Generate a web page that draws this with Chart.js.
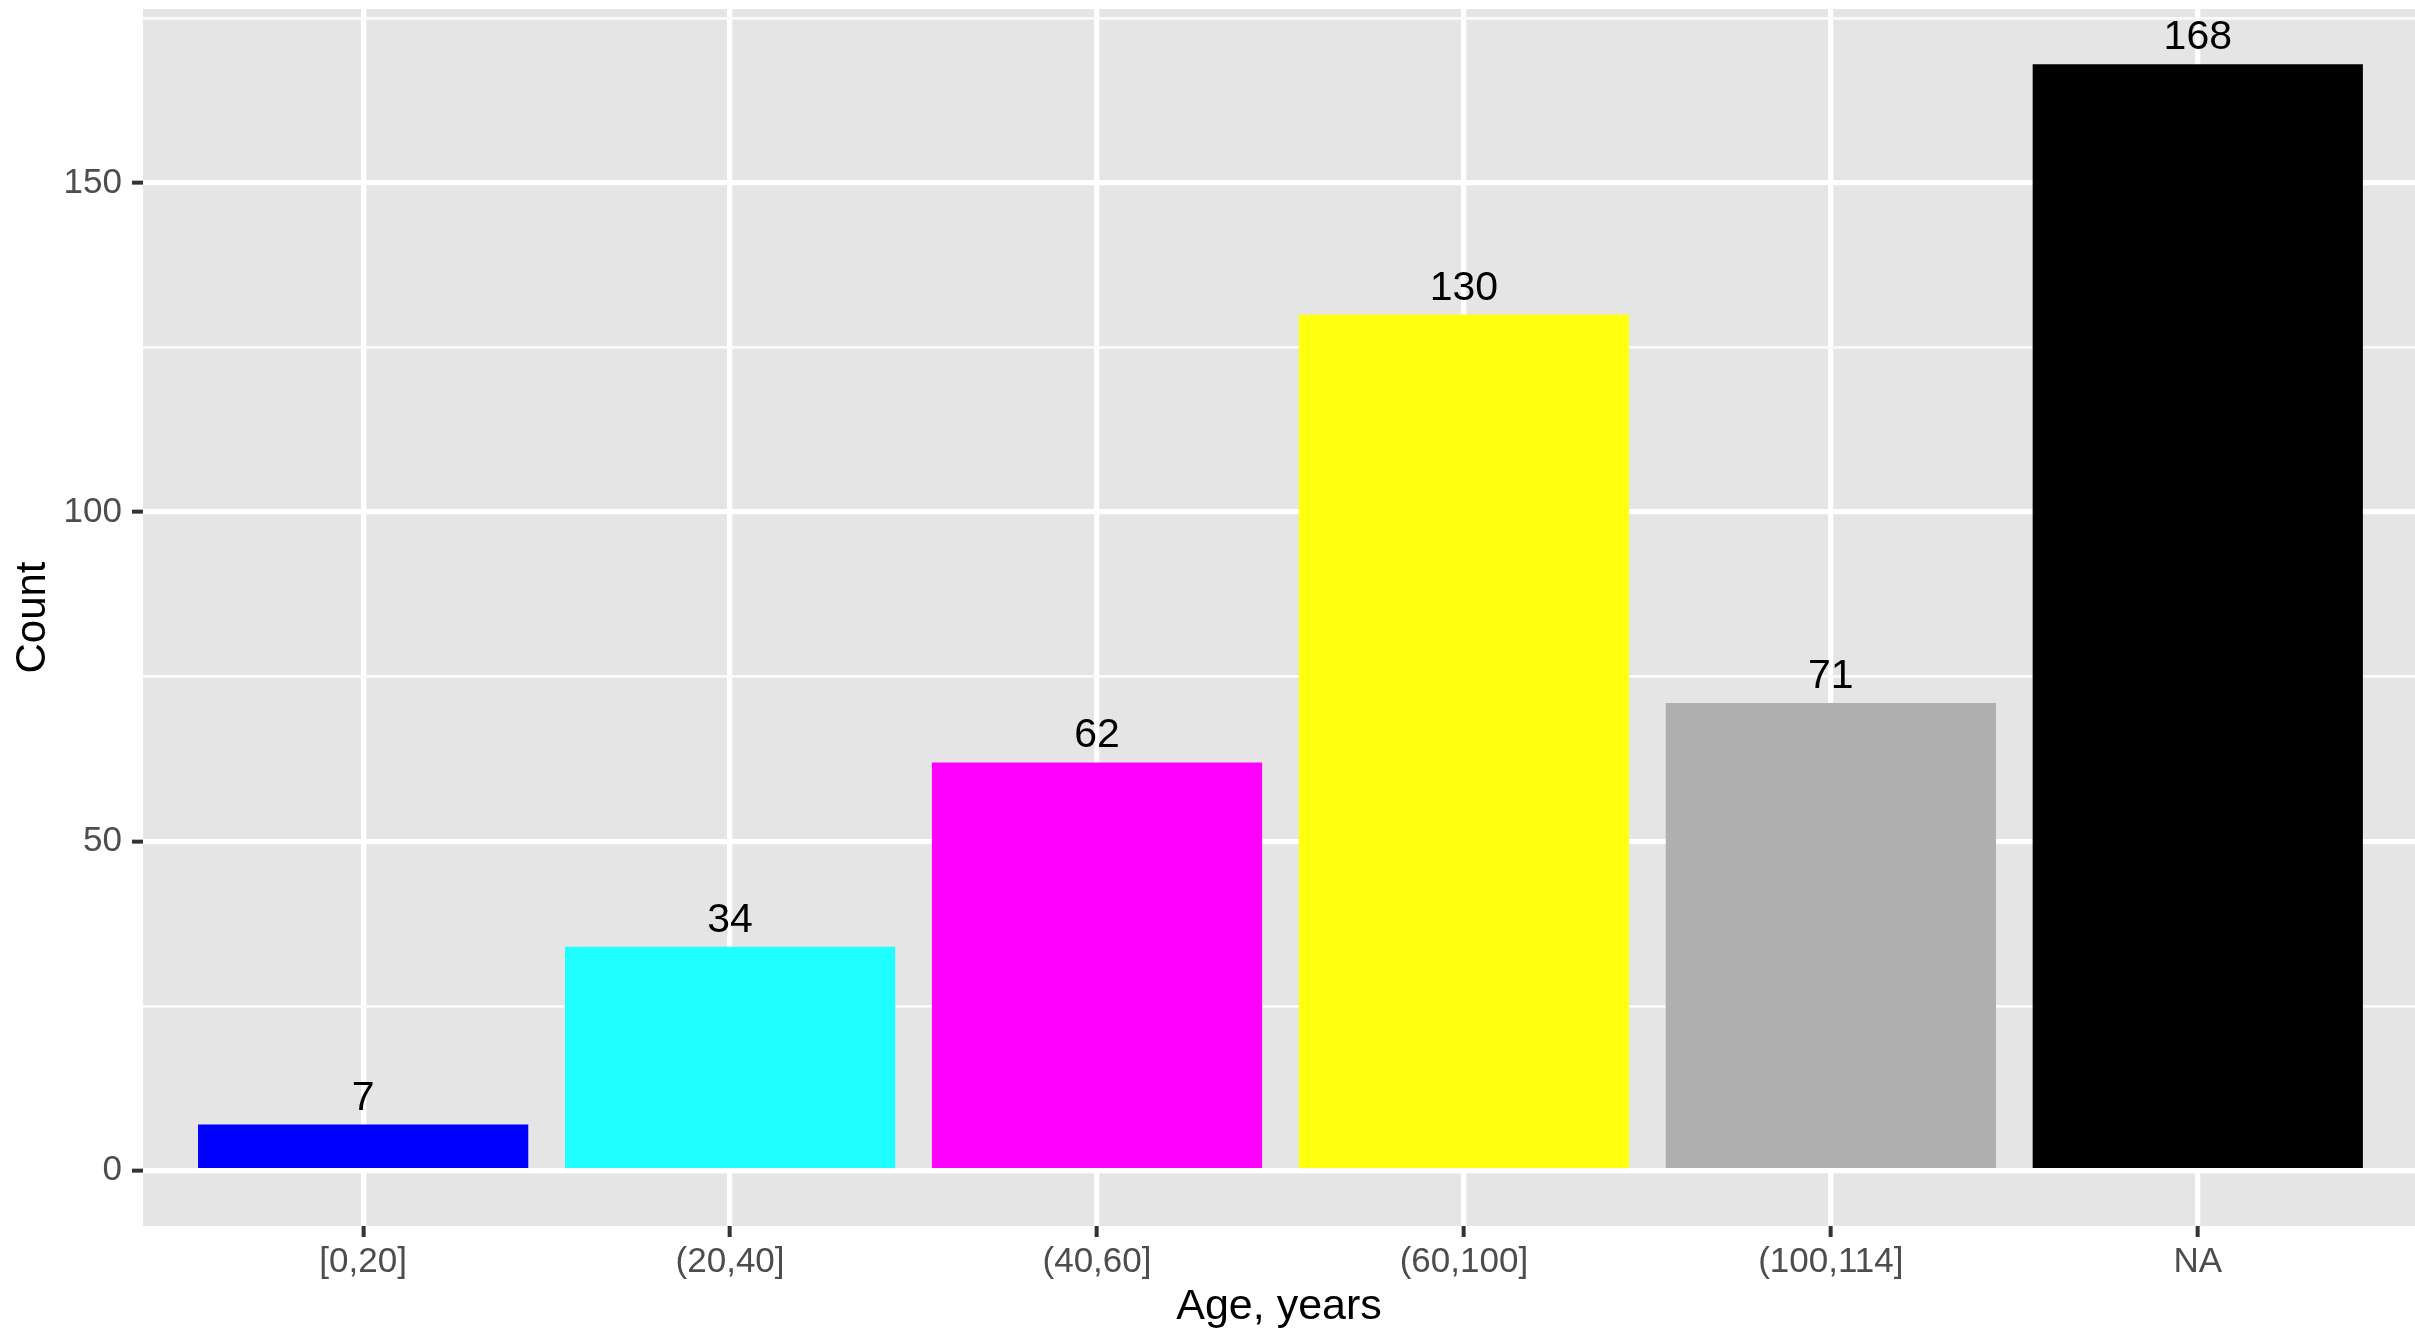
<!DOCTYPE html>
<html>
<head>
<meta charset="utf-8">
<script src="https://cdn.jsdelivr.net/npm/chart.js@4/dist/chart.umd.min.js"></script>
<style>
  html, body { margin: 0; padding: 0; background: #ffffff; }
  #wrap { width: 2415px; height: 1329px; }
</style>
</head>
<body>
<div id="wrap"><canvas id="c" width="2415" height="1329"></canvas></div>
<script>
// ---- data ----
const categories = ["[0,20]", "(20,40]", "(40,60]", "(60,100]", "(100,114]", "NA"];
const counts = [7, 34, 62, 130, 71, 168];
const barColors = ["#0000FF", "#20FFFF", "#FF00FF", "#FFFF10", "#AFAFAF", "#000000"];
const yMajorTicks = [0, 50, 100, 150];
const yMinorTicks = [25, 75, 125, 175];
const xTitle = "Age, years";
const yTitle = "Count";

const FONT = "'Liberation Sans', Arial, Helvetica, sans-serif";

const panelBg = {
  id: 'panelBg',
  beforeDraw(chart) {
    const a = chart.chartArea;
    const ctx = chart.ctx;
    ctx.save();
    ctx.fillStyle = '#E5E5E5';
    ctx.fillRect(a.left, a.top, a.right - a.left, a.bottom - a.top);
    ctx.restore();
  }
};

const barLabels = {
  id: 'barLabels',
  afterDatasetsDraw(chart) {
    const ctx = chart.ctx;
    const meta = chart.getDatasetMeta(0);
    ctx.save();
    ctx.font = "41px " + FONT;
    ctx.fillStyle = '#000000';
    ctx.textAlign = 'center';
    ctx.textBaseline = 'alphabetic';
    meta.data.forEach((bar, i) => {
      ctx.fillText(String(counts[i]), bar.x, bar.y - 15);
    });
    ctx.restore();
  }
};

const isMajor = (v) => yMajorTicks.includes(v);
const zeroPad = (scale) => { scale.paddingTop = 0; scale.paddingBottom = 0; scale.paddingLeft = 0; scale.paddingRight = 0; };

new Chart(document.getElementById('c'), {
  type: 'bar',
  data: {
    datasets: [{
      data: counts.map((v, i) => ({ x: i + 1, y: v })),
      backgroundColor: barColors,
      borderWidth: 0,
      barPercentage: 0.9,
      categoryPercentage: 1.0
    }]
  },
  options: {
    responsive: false,
    devicePixelRatio: 1,
    animation: false,
    layout: { padding: { top: 9, right: 0, bottom: 0, left: 0 } },
    plugins: { legend: { display: false }, tooltip: { enabled: false } },
    scales: {
      x: {
        type: 'linear',
        offset: false,
        min: 0.4,
        max: 6.592,
        afterBuildTicks(scale) { scale.ticks = categories.map((_, i) => ({ value: i + 1 })); },
        afterFit(scale) { scale.height = 103; zeroPad(scale); },
        border: { display: false },
        grid: {
          offset: false,
          color: '#FFFFFF',
          lineWidth: 5.3,
          tickColor: '#333333',
          tickLength: 11,
          tickWidth: 4
        },
        ticks: {
          autoSkip: false,
          maxRotation: 0,
          padding: 4,
          color: '#4D4D4D',
          font: { family: FONT, size: 35 },
          callback: (v) => categories[v - 1] ?? ''
        },
        title: {
          display: true,
          text: xTitle,
          color: '#000000',
          font: { family: FONT, size: 43, lineHeight: 1.0 },
          padding: { top: 0, bottom: 0 }
        }
      },
      y: {
        min: -8.4,
        max: 176.4,
        afterBuildTicks(scale) {
          scale.ticks = yMajorTicks.concat(yMinorTicks).sort((a, b) => a - b).map(v => ({ value: v }));
        },
        afterFit(scale) { scale.width = 143; zeroPad(scale); },
        border: { display: false },
        grid: {
          color: (c) => isMajor(c.tick.value) ? '#FFFFFF' : '#FAFAFA',
          lineWidth: (c) => isMajor(c.tick.value) ? 5.3 : 2.7,
          tickColor: (c) => isMajor(c.tick.value) ? '#333333' : 'rgba(0,0,0,0)',
          tickLength: 11,
          tickWidth: 4
        },
        ticks: {
          autoSkip: false,
          padding: 10,
          color: '#4D4D4D',
          font: { family: FONT, size: 35 },
          callback: (v) => isMajor(v) ? String(v) : ''
        },
        title: {
          display: true,
          text: yTitle,
          color: '#000000',
          font: { family: FONT, size: 42 },
          padding: { top: 8, bottom: 0 }
        }
      }
    }
  },
  plugins: [panelBg, barLabels]
});
</script>
</body>
</html>
